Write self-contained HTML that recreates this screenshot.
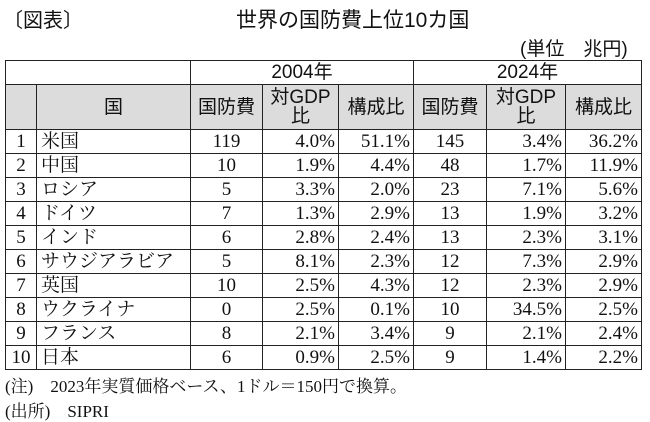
<!DOCTYPE html>
<html><head><meta charset="utf-8"><style>
body{margin:0;width:650px;height:421px;background:#fff;position:relative;overflow:hidden;font-family:"Liberation Serif","Noto Serif CJK SC",serif;color:#111}
.a{position:absolute;white-space:nowrap}
.s{font-family:"Liberation Sans","Noto Sans CJK JP",sans-serif}
table{position:absolute;left:5px;top:60px;border-collapse:collapse;font-size:19px}
td{border:1px solid #222;padding:0 3px;height:23px;line-height:22px}
tr.h td{font-family:"Liberation Sans","Noto Sans CJK JP",sans-serif;text-align:center;font-size:19px}
tr.g td{background:#dcdcdc;height:44px;line-height:19px}
td.n{text-align:center;padding:0}
td.c{text-align:left;padding-left:4px}
td.m{text-align:center}
td.r{text-align:right}
</style></head><body>
<div class="a s" style="left:3px;top:4px;font-size:20px">〔図表〕</div>
<div class="a s" style="left:236px;top:4px;font-size:21px">世界の国防費上位10カ国</div>
<div class="a s" style="left:520px;top:34px;font-size:19px">(単位　兆円)</div>
<table>
<colgroup><col style="width:31px"><col style="width:154px"><col style="width:72px"><col style="width:76px"><col style="width:75px"><col style="width:73px"><col style="width:79px"><col style="width:76px"></colgroup>
<tr class="h"><td colspan="2"></td><td colspan="3">2004年</td><td colspan="3">2024年</td></tr>
<tr class="h g"><td></td><td>国</td><td>国防費</td><td>対GDP<br>比</td><td>構成比</td><td>国防費</td><td>対GDP<br>比</td><td>構成比</td></tr>
<tr><td class="n">1</td><td class="c">米国</td><td class="m">119</td><td class="r">4.0%</td><td class="r">51.1%</td><td class="m">145</td><td class="r">3.4%</td><td class="r">36.2%</td></tr>
<tr><td class="n">2</td><td class="c">中国</td><td class="m">10</td><td class="r">1.9%</td><td class="r">4.4%</td><td class="m">48</td><td class="r">1.7%</td><td class="r">11.9%</td></tr>
<tr><td class="n">3</td><td class="c">ロシア</td><td class="m">5</td><td class="r">3.3%</td><td class="r">2.0%</td><td class="m">23</td><td class="r">7.1%</td><td class="r">5.6%</td></tr>
<tr><td class="n">4</td><td class="c">ドイツ</td><td class="m">7</td><td class="r">1.3%</td><td class="r">2.9%</td><td class="m">13</td><td class="r">1.9%</td><td class="r">3.2%</td></tr>
<tr><td class="n">5</td><td class="c">インド</td><td class="m">6</td><td class="r">2.8%</td><td class="r">2.4%</td><td class="m">13</td><td class="r">2.3%</td><td class="r">3.1%</td></tr>
<tr><td class="n">6</td><td class="c">サウジアラビア</td><td class="m">5</td><td class="r">8.1%</td><td class="r">2.3%</td><td class="m">12</td><td class="r">7.3%</td><td class="r">2.9%</td></tr>
<tr><td class="n">7</td><td class="c">英国</td><td class="m">10</td><td class="r">2.5%</td><td class="r">4.3%</td><td class="m">12</td><td class="r">2.3%</td><td class="r">2.9%</td></tr>
<tr><td class="n">8</td><td class="c">ウクライナ</td><td class="m">0</td><td class="r">2.5%</td><td class="r">0.1%</td><td class="m">10</td><td class="r">34.5%</td><td class="r">2.5%</td></tr>
<tr><td class="n">9</td><td class="c">フランス</td><td class="m">8</td><td class="r">2.1%</td><td class="r">3.4%</td><td class="m">9</td><td class="r">2.1%</td><td class="r">2.4%</td></tr>
<tr><td class="n">10</td><td class="c">日本</td><td class="m">6</td><td class="r">0.9%</td><td class="r">2.5%</td><td class="m">9</td><td class="r">1.4%</td><td class="r">2.2%</td></tr>
</table>
<div class="a" style="left:5px;top:372px;font-size:17px">(注)　2023年実質価格ベース、1ドル＝150円で換算。</div>
<div class="a" style="left:5px;top:397px;font-size:17px">(出所)　SIPRI</div>
</body></html>
